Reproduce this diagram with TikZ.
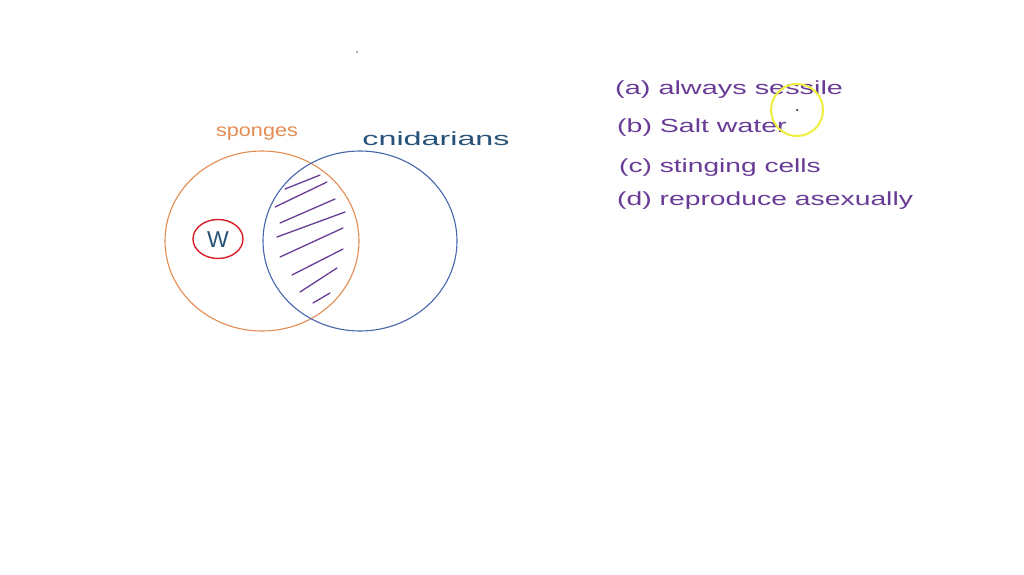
\documentclass[tikz,border=0pt]{standalone}
\usepackage{graphicx}
\usepackage{fontspec}
\setmainfont{Liberation Sans}
\usetikzlibrary{shapes.geometric}
\definecolor{sponge}{RGB}{228,140,82}
\definecolor{cnid}{RGB}{72,102,170}
\definecolor{lbl}{RGB}{38,82,120}
\definecolor{purp}{RGB}{105,60,150}
\definecolor{redc}{RGB}{215,30,40}
\definecolor{yel}{RGB}{238,238,60}
\newcommand{\wide}[2]{\scalebox{#1}[1]{#2}}
\tikzset{
  handtext/.style={font=\fontsize{19}{21}\selectfont, anchor=west, inner sep=0pt, text=purp},
  hatch/.style={purp, line width=1.3pt, line cap=round},
  venn/.style={line width=1.1pt}
}
\begin{document}
\begin{tikzpicture}[x=1pt,y=-1pt]
\useasboundingbox[fill=white] (0,0) rectangle (1024,574);
% Venn circles
\draw[venn, sponge] (262,241) ellipse [x radius=97, y radius=90];
\draw[venn, cnid] (360,241) ellipse [x radius=97, y radius=90];
% hatching in intersection
\draw[hatch] (285,189) -- (320,175);
\draw[hatch] (275,207) -- (327,182);
\draw[hatch] (280,223) -- (335,199);
\draw[hatch] (277,237) -- (345,212);
\draw[hatch] (280,257) -- (343,228);
\draw[hatch] (292,275) -- (343,249);
\draw[hatch] (300,292) -- (337,268);
\draw[hatch] (313,303) -- (330,293);
% W circled
\node[draw=redc, line width=1.4pt, ellipse, minimum width=50pt, minimum height=39pt, inner sep=0pt] (wc) at (218,239) {};
\node[text=lbl, font=\fontsize{23}{25}\selectfont] (w) at (218,240) {W};
% labels
\node[text=sponge, font=\fontsize{18}{20}\selectfont] (sp) at (257,134) {\wide{1.2}{sponges}};
\node[text=lbl, font=\fontsize{19}{21}\selectfont] (cn) at (436,139) {\wide{1.7}{cnidarians}};
% statements
\node[handtext] (a) at (615,90) {\wide{1.52}{(a) always sessile}};
\node[handtext] (b) at (617,128) {\wide{1.5}{(b) Salt water}};
\node[handtext] (c) at (619,168) {\wide{1.48}{(c) stinging cells}};
\node[handtext] (d) at (617,201) {\wide{1.49}{(d) reproduce asexually}};
% cursor highlight
\draw[yel, line width=2pt] (797,110) circle [radius=26];
\fill[black] (797,110) circle [radius=1];
\fill[gray] (357,52) circle [radius=1];
\end{tikzpicture}
\end{document}
